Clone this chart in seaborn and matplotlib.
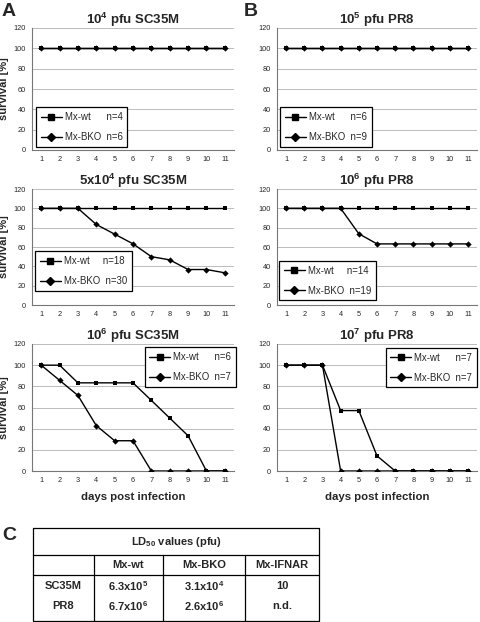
import numpy as np
import pandas as pd
import matplotlib
matplotlib.use("Agg")
import matplotlib.pyplot as plt
import seaborn as sns
from matplotlib.lines import Line2D

# ---------------- data ----------------
days = [1, 2, 3, 4, 5, 6, 7, 8, 9, 10, 11]

a1_wt  = [100, 100, 100, 100, 100, 100, 100, 100, 100, 100, 100]
a1_bko = [100, 100, 100, 100, 100, 100, 100, 100, 100, 100, 100]
a2_wt  = [100, 100, 100, 100, 100, 100, 100, 100, 100, 100, 100]
a2_bko = [100, 100, 100, 83.3, 73.3, 63.3, 50.0, 46.7, 36.7, 36.7, 33.3]
a3_wt  = [100, 100, 83.3, 83.3, 83.3, 83.3, 66.7, 50.0, 33.3, 0, 0]
a3_bko = [100, 85.7, 71.4, 42.9, 28.6, 28.6, 0, 0, 0, 0, 0]

b1_wt  = [100, 100, 100, 100, 100, 100, 100, 100, 100, 100, 100]
b1_bko = [100, 100, 100, 100, 100, 100, 100, 100, 100, 100, 100]
b2_wt  = [100, 100, 100, 100, 100, 100, 100, 100, 100, 100, 100]
b2_bko = [100, 100, 100, 100, 73.7, 63.2, 63.2, 63.2, 63.2, 63.2, 63.2]
b3_wt  = [100, 100, 100, 57.1, 57.1, 14.3, 0, 0, 0, 0, 0]
b3_bko = [100, 100, 100, 0, 0, 0, 0, 0, 0, 0, 0]

titles = [r"10$^{\mathbf{4}}$ pfu SC35M", r"10$^{\mathbf{5}}$ pfu PR8",
          r"5x10$^{\mathbf{4}}$ pfu SC35M", r"10$^{\mathbf{6}}$ pfu PR8",
          r"10$^{\mathbf{6}}$ pfu SC35M", r"10$^{\mathbf{7}}$ pfu PR8"]
n_wt  = [4, 6, 18, 14, 6, 7]
n_bko = [6, 9, 30, 19, 7, 7]

table_cols = ["Mx-wt", "Mx-BKO", "Mx-IFNAR"]
table_rows = ["SC35M", "PR8"]
table_vals = [[r"6.3x10$^{\mathbf{5}}$", r"3.1x10$^{\mathbf{4}}$", "10"],
              [r"6.7x10$^{\mathbf{6}}$", r"2.6x10$^{\mathbf{6}}$", "n.d."]]

series = [(a1_wt, a1_bko), (b1_wt, b1_bko), (a2_wt, a2_bko),
          (b2_wt, b2_bko), (a3_wt, a3_bko), (b3_wt, b3_bko)]

# ---------------- style ----------------
sns.set_style("white")
plt.rcParams['font.family'] = ['Liberation Sans', 'DejaVu Sans']
plt.rcParams['mathtext.fontset'] = 'custom'
plt.rcParams['mathtext.rm'] = 'Liberation Sans'
plt.rcParams['mathtext.bf'] = 'Liberation Sans:bold'
plt.rcParams['mathtext.it'] = 'Liberation Sans:italic'

W, H = 480, 622
fig = plt.figure(figsize=(W / 100, H / 100), dpi=100)

def frac(x0, y0, x1, y1):
    return [x0 / W, 1 - y1 / H, (x1 - x0) / W, (y1 - y0) / H]

rows_px = [(28, 150), (189, 305), (344, 471)]
cols_px = [(32, 234), (277, 477)]

legend_pos = [("lower left", (0.02, 0.025)), ("lower left", (0.015, 0.025)),
              ("lower left", (0.015, 0.12)), ("lower left", (0.01, 0.04)),
              ("upper right", (1.01, 0.975)), ("upper right", (1.0, 0.97))]

for i, (wt, bko) in enumerate(series):
    r, c = divmod(i, 2)
    x0, x1 = cols_px[c]
    y0, y1 = rows_px[r]
    ax = fig.add_axes(frac(x0, y0, x1, y1))
    df_bko = pd.DataFrame({"day": days, "survival": bko})
    df_wt = pd.DataFrame({"day": days, "survival": wt})
    sns.lineplot(data=df_bko, x="day", y="survival", ax=ax, color="black",
                 marker="D", markersize=3.2, markeredgewidth=0, lw=1.0, zorder=3)
    sns.lineplot(data=df_wt, x="day", y="survival", ax=ax, color="black",
                 marker="s", markersize=3.4, markeredgewidth=0, lw=1.0, zorder=4)
    ax.set_xlim(0.5, 11.5)
    ax.set_ylim(0, 120)
    ax.set_yticks(np.arange(0, 121, 20))
    ax.set_xticks(days)
    ax.set_xticks(np.arange(0.5, 11.6, 1), minor=True)
    ax.tick_params(axis="x", which="major", length=0, labelsize=5.3, pad=4)
    ax.tick_params(axis="x", which="minor", length=2.5, width=0.6, color="#555555", direction="out")
    ax.tick_params(axis="y", which="major", length=2.5, width=0.6, color="#555555",
                   direction="out", labelsize=5.3, pad=2)
    ax.yaxis.grid(True, color="#bbbbbb", lw=0.7)
    ax.set_axisbelow(True)
    for s in ["top", "right"]:
        ax.spines[s].set_visible(False)
    for s in ["left", "bottom"]:
        ax.spines[s].set_color("#777777")
        ax.spines[s].set_linewidth(0.8)
    ax.set_title(titles[i], fontsize=9.5, fontweight="bold", pad=3)
    ax.set_xlabel("days post infection" if r == 2 else "", fontsize=8.2,
                  fontweight="bold", labelpad=6)
    ax.set_ylabel("survival [%]" if c == 0 else "", fontsize=8, fontweight="bold", labelpad=3)

    h_wt = Line2D([], [], color="black", marker="s", markersize=4, lw=1.0)
    h_bko = Line2D([], [], color="black", marker="D", markersize=3.6, lw=1.0)
    sp_wt = " " * (6 if n_wt[i] < 10 else 5)
    lbl_wt = f"Mx-wt{sp_wt}n={n_wt[i]}"
    lbl_bko = f"Mx-BKO  n={n_bko[i]}"
    loc, anchor = legend_pos[i]
    leg = ax.legend([h_wt, h_bko], [lbl_wt, lbl_bko], loc=loc, bbox_to_anchor=anchor,
                    borderaxespad=0, fontsize=6.9, frameon=True, fancybox=False,
                    handlelength=2.2, handletextpad=0.3, labelspacing=1.05,
                    borderpad=0.5)
    leg.get_frame().set_edgecolor("black")
    leg.get_frame().set_linewidth(0.9)
    leg.get_frame().set_alpha(1)

# ---------------- overlay: panel letters and table ----------------
ov = fig.add_axes([0, 0, 1, 1])
ov.set_xlim(0, W)
ov.set_ylim(H, 0)
ov.axis("off")
ov.patch.set_alpha(0)

for lbl, (x, y) in zip(["A", "B", "C"], [(2, 12), (244, 12), (2, 536)]):
    ov.text(x, y, lbl, fontsize=14, fontweight="bold", ha="left", va="center")

tx0, tx1 = 33, 319
ty0, ty1 = 528, 621
ysep1, ysep2 = 555, 575
xcols = [94, 163, 245]
lw = 0.9
ov.plot([tx0, tx1, tx1, tx0, tx0], [ty0, ty0, ty1, ty1, ty0], color="black", lw=lw)
ov.plot([tx0, tx1], [ysep1, ysep1], color="black", lw=lw)
ov.plot([tx0, tx1], [ysep2, ysep2], color="black", lw=lw)
for xc in xcols:
    ov.plot([xc, xc], [ysep1, ty1], color="black", lw=lw)

ov.text((tx0 + tx1) / 2, 542, r"LD$_{\mathbf{50}}$ values (pfu)", fontsize=8,
        fontweight="bold", ha="center", va="center")
col_centers = [(xcols[0] + xcols[1]) / 2, (xcols[1] + xcols[2]) / 2, (xcols[2] + tx1) / 2]
for xc, name in zip(col_centers, table_cols):
    ov.text(xc, 565, name, fontsize=8, fontweight="bold", ha="center", va="center")
row_y = [586, 606]
for yr, rname, vals in zip(row_y, table_rows, table_vals):
    ov.text((tx0 + xcols[0]) / 2, yr, rname, fontsize=8, fontweight="bold",
            ha="center", va="center")
    for xc, v in zip(col_centers, vals):
        ov.text(xc, yr, v, fontsize=8, fontweight="bold", ha="center", va="center")

fig.savefig("out.png", dpi=100)
